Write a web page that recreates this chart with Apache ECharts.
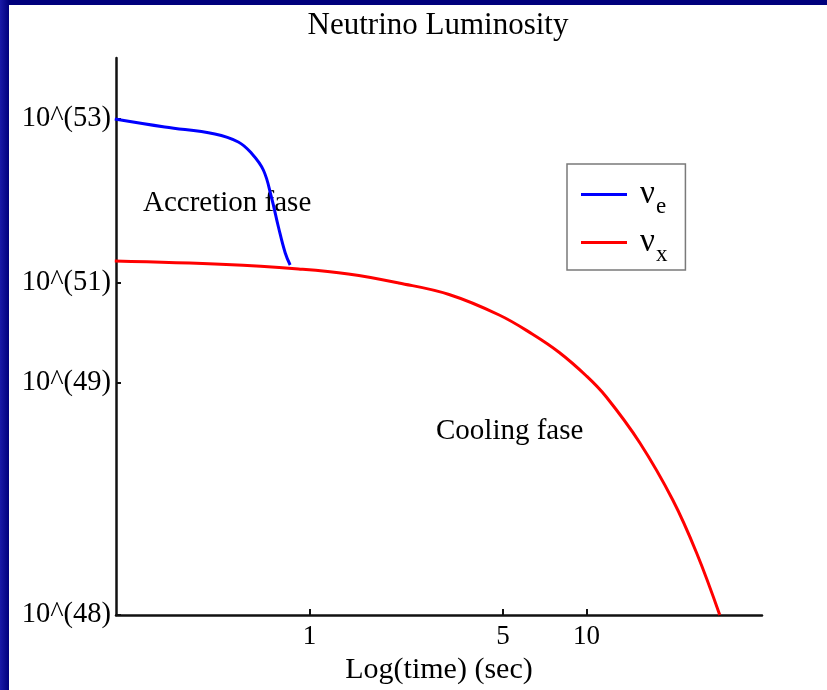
<!DOCTYPE html>
<html>
<head>
<meta charset="utf-8">
<script src="https://cdn.jsdelivr.net/npm/echarts@6/dist/echarts.min.js"></script>
<style>
  html, body { margin: 0; padding: 0; width: 827px; height: 690px; overflow: hidden;
    background: linear-gradient(to right, #1a1aa8 0px, #00007c 9px, #00007c 100%); }
  #chart { position: absolute; left: 9px; top: 5px; width: 818px; height: 685px; background: #fff; }
</style>
</head>
<body>
<div id="chart"></div>
<script>
// time in seconds, luminosity as position on the (non-linear) plot scale
const nueTime  = [0.198, 0.30, 0.455, 0.553, 0.616, 0.681, 0.728, 0.772, 0.817, 0.851];
const nueLevel = [496, 488, 481, 473, 462, 445, 418, 388, 362, 350];

const nuxTime  = [0.198, 0.5, 0.912, 1.38, 2.10, 3.19, 4.84, 6.37, 7.98, 10, 11.8, 15.6, 20.5, 25.0, 30.3];
const nuxLevel = [354, 350.5, 346, 341, 332, 320.5, 300, 281, 262.5, 239, 218, 172, 115, 62, 0];

const yTickLevels = [0, 232, 332, 496];
const yTickLabels = ['10^(48)', '10^(49)', '10^(51)', '10^(53)'];
const xTickTimes = [1, 5, 10];

const serif = '"Liberation Serif", "DejaVu Serif", serif';

const chart = echarts.init(document.getElementById('chart'));

function toPairs(ts, ys) {
  return ts.map((t, i) => [Math.log10(t), ys[i]]);
}

const option = {
  animation: false,
  title: {
    text: 'Neutrino Luminosity',
    left: 424, top: 0, textAlign: 'center',
    textStyle: { fontFamily: serif, fontSize: 31, fontWeight: 'normal', color: '#000' }
  },
  grid: { left: 107, right: 65, top: 53, bottom: 75, outerBoundsMode: 'none' },
  legend: {
    orient: 'vertical',
    left: 558, top: 159,
    padding: [14, 18, 4, 14],
    borderColor: '#7a7a7a', borderWidth: 1.5,
    itemGap: 8,
    itemWidth: 46, itemHeight: 3,
    icon: 'rect',
    data: ['e', 'x'],
    formatter: name => '{v|ν}{s|' + name + '}',
    textStyle: {
      padding: [0, 0, 0, 8],
      rich: {
        v: { fontFamily: serif, fontSize: 33, color: '#000', lineHeight: 35 },
        s: { fontFamily: serif, fontSize: 23, color: '#000', padding: [24, 0, 0, 1] }
      }
    }
  },
  xAxis: {
    type: 'value',
    min: Math.log10(0.2), max: 1.634,
    name: 'Log(time) (sec)',
    nameLocation: 'middle', nameGap: 38,
    nameTextStyle: { fontFamily: serif, fontSize: 30, color: '#000' },
    splitLine: { show: false },
    axisLine: { lineStyle: { color: '#111', width: 2.5 } },
    axisTick: { inside: true, length: 6, lineStyle: { color: '#111', width: 2 },
      customValues: xTickTimes.map(t => Math.log10(t)) },
    axisLabel: {
      customValues: xTickTimes.map(t => Math.log10(t)),
      formatter: v => String(Math.round(Math.pow(10, v))),
      fontFamily: serif, fontSize: 27, color: '#000', margin: 8
    }
  },
  yAxis: {
    type: 'value',
    min: 0, max: 557,
    splitLine: { show: false },
    axisLine: { show: true, onZero: false, lineStyle: { color: '#111', width: 2.5 } },
    axisTick: { show: true, inside: true, length: 5, lineStyle: { color: '#111', width: 2 },
      customValues: yTickLevels },
    axisLabel: {
      customValues: yTickLevels,
      formatter: v => yTickLabels[yTickLevels.indexOf(v)],
      fontFamily: serif, fontSize: 28.5, color: '#000', margin: 5
    }
  },
  graphic: [
    { type: 'text', left: 134, top: 184,
      style: { text: 'Accretion fase', font: '29px ' + serif, fill: '#000' } },
    { type: 'text', left: 427, top: 412,
      style: { text: 'Cooling fase', font: '29px ' + serif, fill: '#000' } }
  ],
  series: [
    {
      name: 'e', type: 'line', smooth: 0.4, showSymbol: false,
      color: '#0000ff',
      lineStyle: { width: 3, color: '#0000ff' },
      data: toPairs(nueTime, nueLevel)
    },
    {
      name: 'x', type: 'line', smooth: 0.4, showSymbol: false,
      color: '#ff0000',
      lineStyle: { width: 3, color: '#ff0000' },
      data: toPairs(nuxTime, nuxLevel)
    }
  ]
};

chart.setOption(option);
</script>
</body>
</html>
